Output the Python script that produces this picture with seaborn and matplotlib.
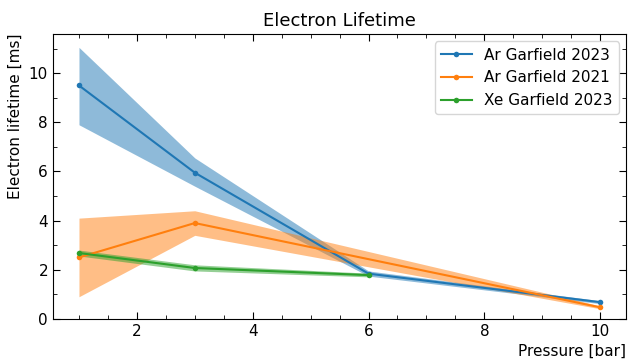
import matplotlib
matplotlib.use("Agg")
import matplotlib.pyplot as plt
import seaborn as sns
import pandas as pd
from matplotlib.ticker import MultipleLocator

# Data
labels = ["Ar Garfield 2023", "Ar Garfield 2021", "Xe Garfield 2023"]
ar23_p = [1, 3, 6, 10]
ar23_y = [9.5, 5.95, 1.84, 0.68]
ar23_lo = [7.9, 5.4, 1.74, 0.62]
ar23_hi = [11.05, 6.55, 1.95, 0.74]

ar21_p = [1, 3, 10]
ar21_y = [2.5, 3.9, 0.47]
ar21_lo = [0.9, 3.4, 0.41]
ar21_hi = [4.1, 4.4, 0.53]

xe23_p = [1, 3, 6]
xe23_y = [2.68, 2.07, 1.78]
xe23_lo = [2.56, 1.95, 1.71]
xe23_hi = [2.8, 2.2, 1.86]

colors = ["#1f77b4", "#ff7f0e", "#2ca02c"]

plt.rcParams['font.family'] = ['DejaVu Sans']
fig = plt.figure(figsize=(6.3, 3.64), dpi=100)
ax = fig.add_axes([0.084, 0.124, 0.91, 0.783])

series = [(ar23_p, ar23_y, ar23_lo, ar23_hi),
          (ar21_p, ar21_y, ar21_lo, ar21_hi),
          (xe23_p, xe23_y, xe23_lo, xe23_hi)]
for (p, y, lo, hi), lab, c in zip(series, labels, colors):
    df = pd.DataFrame({"p": p, "y": y})
    sns.lineplot(data=df, x="p", y="y", ax=ax, color=c, marker="o",
                 markersize=4, markeredgewidth=0, linewidth=1.5, label=lab)
    ax.fill_between(p, lo, hi, color=c, alpha=0.5, linewidth=0)

ax.set_ylim(0, 11.6)
ax.set_xlim(0.55, 10.45)
ax.xaxis.set_major_locator(MultipleLocator(2))
ax.xaxis.set_minor_locator(MultipleLocator(0.5))
ax.yaxis.set_major_locator(MultipleLocator(2))
ax.yaxis.set_minor_locator(MultipleLocator(1))
ax.tick_params(which="both", direction="in", top=True, right=True, labelsize=11)
ax.tick_params(which="major", length=5)
ax.tick_params(which="minor", length=3)

ax.set_title("Electron Lifetime", fontsize=13)
ax.set_xlabel("Pressure [bar]", fontsize=11, loc="right")
ax.set_ylabel("Electron lifetime [ms]", fontsize=11, loc="top")
ax.legend(loc="upper right", fontsize=11)

fig.savefig("out.png", dpi=100)
